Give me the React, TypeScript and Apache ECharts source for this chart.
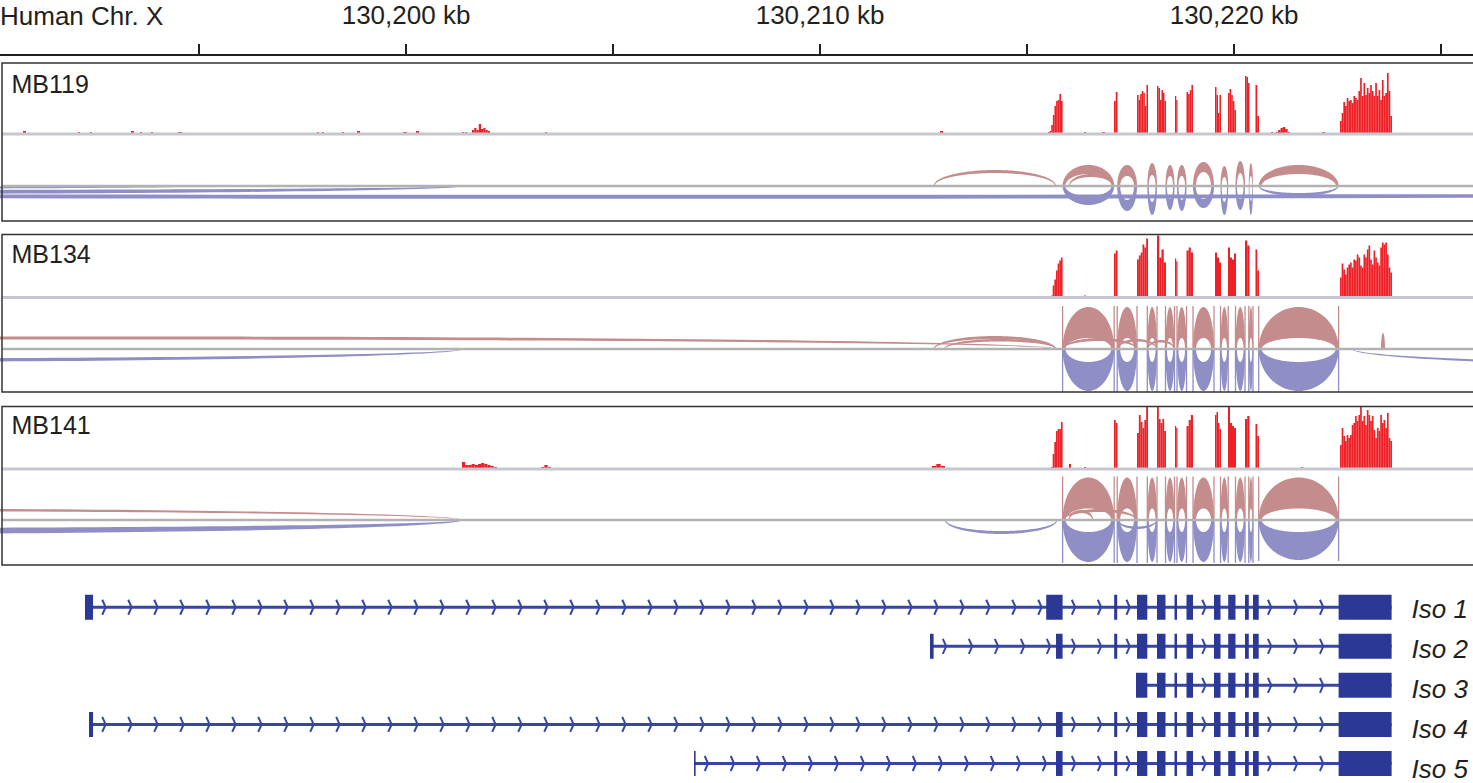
import React, { useEffect, useRef } from "react";
import * as echarts from "echarts";

// Genomic window on human chromosome X; all positions are kb offsets from 130,200 kb
const ORIGIN_KB = 130200;
const VIEW_START = -9.807;
const VIEW_END = 25.773;
const RULER_TICKS = [-5, 0, 5, 10, 15, 20, 25];
const RULER_LABELS = [0, 10, 20];
const CHROM_LABEL = "Human Chr. X";

const SAMPLES = ["MB119", "MB134", "MB141"];
const ISOFORMS = ["Iso 1", "Iso 2", "Iso 3", "Iso 4", "Iso 5"];

// Read coverage: [start kb, end kb, depths of the consecutive bins in that stretch]
const coverageMB119: [number, number, number[]][] = [
  [-9.251, -9.179, [3]],
  [-7.923, -7.874, [2]],
  [-7.633, -7.585, [2]],
  [-6.643, -6.570, [3]],
  [-6.425, -6.377, [2]],
  [-6.159, -6.111, [2]],
  [-5.507, -5.411, [2, 2]],
  [-2.150, -2.101, [2]],
  [-2.029, -1.981, [2]],
  [-1.546, -1.498, [2]],
  [-1.184, -1.111, [3]],
  [-0.072, 0.024, [2, 2]],
  [0.242, 0.314, [3]],
  [1.353, 1.401, [2]],
  [1.425, 1.473, [2]],
  [1.594, 2.029, [4, 6, 4, 10, 5, 6, 4, 3]],
  [3.357, 3.406, [2]],
  [12.899, 12.971, [3]],
  [15.507, 15.860, [2, 3, 9, 19, 28, 33, 34, 40, 33]],
  [16.377, 16.425, [2]],
  [16.812, 16.884, [2, 2]],
  [17.101, 17.186, [33, 42]],
  [17.657, 17.923, [39, 34, 40, 43, 41, 28, 49]],
  [18.140, 18.357, [48, 46, 34, 44, 41, 33]],
  [18.575, 18.635, [38, 34]],
  [18.853, 19.010, [42, 40, 44, 49]],
  [19.541, 19.686, [47, 39, 21, 39]],
  [19.855, 20.048, [41, 45, 39, 33, 24]],
  [20.266, 20.374, [58, 57, 51]],
  [20.519, 20.604, [49, 18]],
  [20.894, 21.353, [2, 0, 2, 4, 6, 7, 5, 2]],
  [22.126, 22.198, [2]],
  [22.560, 23.816, [13, 21, 32, 28, 36, 33, 34, 31, 38, 36, 34, 43, 56, 38, 51, 39, 46, 41, 49, 43, 38, 51, 38, 44, 34, 54, 38, 41, 61, 43, 18]],
];

const coverageMB134: [number, number, number[]][] = [
  [15.580, 15.860, [2, 12, 18, 27, 34, 37, 40]],
  [16.377, 16.425, [2]],
  [17.101, 17.186, [44, 47]],
  [17.657, 17.923, [38, 42, 45, 53, 50, 59]],
  [18.140, 18.357, [62, 40, 48, 35]],
  [18.575, 18.635, [39, 36]],
  [18.853, 19.010, [47, 50, 45]],
  [19.541, 19.686, [45, 40, 35]],
  [19.855, 20.048, [50, 40, 38, 44]],
  [20.266, 20.374, [57, 52]],
  [20.519, 20.604, [48, 27]],
  [22.560, 23.816, [20, 34, 28, 23, 30, 33, 35, 30, 38, 37, 43, 40, 32, 30, 43, 40, 48, 52, 38, 33, 47, 40, 35, 32, 50, 55, 53, 55, 43, 30, 25]],
];

const coverageMB141: [number, number, number[]][] = [
  [1.353, 2.198, [7, 4, 4, 5, 4, 5, 6, 5, 4, 3, 2]],
  [3.261, 3.502, [2, 4, 2]],
  [12.705, 13.019, [3, 5, 3]],
  [15.580, 15.860, [2, 15, 27, 38, 40, 40, 47]],
  [16.014, 16.063, [5]],
  [16.377, 16.425, [2]],
  [17.101, 17.186, [49, 46]],
  [17.657, 17.923, [36, 54, 47, 41, 49, 63]],
  [18.140, 18.357, [63, 50, 46, 50, 38]],
  [18.575, 18.635, [43, 41]],
  [18.853, 19.010, [43, 49, 54]],
  [19.541, 19.686, [54, 57, 46, 40]],
  [19.855, 20.048, [62, 46, 43, 41]],
  [20.266, 20.374, [50, 53]],
  [20.519, 20.604, [45, 33]],
  [21.618, 21.667, [2]],
  [22.560, 23.816, [24, 41, 33, 28, 34, 31, 34, 44, 46, 53, 48, 54, 63, 48, 53, 44, 59, 54, 48, 53, 39, 31, 41, 38, 54, 46, 49, 41, 56, 31, 28]],
];

// Splice junctions: [donor kb, acceptor kb, strand (1 above / -1 below), arc height, arc weight]
const junctionsMB119: number[][] = [
  [15.860, 17.106, 1, 21, 9],
  [17.179, 17.657, 1, 21, 11],
  [17.906, 18.140, 1, 23, 12],
  [18.345, 18.563, 1, 21, 11],
  [18.623, 18.853, 1, 21, 11],
  [19.010, 19.517, 1, 24, 10],
  [19.674, 19.860, 1, 20, 11],
  [20.036, 20.266, 1, 25, 12],
  [20.357, 20.459, 1, 23, 13],
  [20.597, 22.527, 1, 21, 9],
  [15.860, 17.106, -1, 19, 9],
  [17.179, 17.657, -1, 25, 11],
  [17.906, 18.140, -1, 29, 13],
  [18.345, 18.563, -1, 24, 11],
  [18.623, 18.853, -1, 25, 11],
  [19.010, 19.517, -1, 22, 9],
  [19.674, 19.860, -1, 29, 13],
  [20.036, 20.266, -1, 24, 11],
  [20.357, 20.459, -1, 29, 14],
  [20.597, 22.527, -1, 10, 3],
  [-30, -4.614, -1, 3, 2.5],
  [-30, 1.377, -1, 8, 4],
  [-50, 60, -1, 12.8, 4],
  [12.744, 15.700, 1, 16, 3],
  [16.014, 17.080, 1, 12, 3],
];

const junctionsMB134: number[][] = [
  [15.860, 17.106, 1, 42, 31],
  [17.179, 17.657, 1, 42, 31],
  [17.906, 18.140, 1, 42, 31],
  [18.345, 18.563, 1, 42, 31],
  [18.623, 18.853, 1, 42, 31],
  [19.010, 19.517, 1, 42, 31],
  [19.674, 19.860, 1, 42, 31],
  [20.036, 20.266, 1, 42, 31],
  [20.357, 20.459, 1, 42, 31],
  [20.597, 22.527, 1, 42, 31],
  [15.860, 17.106, -1, 42, 29],
  [17.179, 17.657, -1, 42, 29],
  [17.906, 18.140, -1, 42, 29],
  [18.345, 18.563, -1, 42, 29],
  [18.623, 18.853, -1, 42, 29],
  [19.010, 19.517, -1, 42, 29],
  [19.674, 19.860, -1, 42, 29],
  [20.036, 20.266, -1, 42, 29],
  [20.357, 20.459, -1, 42, 29],
  [20.597, 22.527, -1, 42, 29],
  [-30, 15.720, 1, 12.5, 3],
  [12.744, 15.700, 1, 13, 3],
  [12.995, 15.700, 1, 10, 2.5],
  [-30, 1.377, -1, 13, 3.5],
  [22.850, 50, -1, 20, 3.5],
  [23.551, 23.647, 1, 16, 16],
  [15.860, 17.657, 1, 11, 3],
  [17.179, 18.140, 1, 10, 2.5],
  [17.906, 18.563, 1, 9, 2.5],
];

const junctionsMB141: number[][] = [
  [15.860, 17.106, 1, 42.5, 31],
  [17.179, 17.657, 1, 42.5, 31],
  [17.906, 18.140, 1, 42.5, 31],
  [18.345, 18.563, 1, 42.5, 31],
  [18.623, 18.853, 1, 42.5, 31],
  [19.010, 19.517, 1, 42.5, 31],
  [19.674, 19.860, 1, 42.5, 31],
  [20.036, 20.266, 1, 42.5, 31],
  [20.357, 20.459, 1, 42.5, 31],
  [20.597, 22.527, 1, 42.5, 31],
  [15.860, 17.106, -1, 42, 30],
  [17.179, 17.657, -1, 42, 30],
  [17.906, 18.140, -1, 42, 30],
  [18.345, 18.563, -1, 42, 30],
  [18.623, 18.853, -1, 42, 30],
  [19.010, 19.517, -1, 42, 30],
  [19.674, 19.860, -1, 42, 30],
  [20.036, 20.266, -1, 42, 30],
  [20.357, 20.459, -1, 42, 30],
  [20.597, 22.527, -1, 40, 28],
  [-30, 1.353, 1, 11.5, 2.5],
  [-30, 1.353, -1, 14, 6],
  [13.019, 15.730, -1, 14, 3],
  [16.000, 16.600, 1, 10, 3],
  [15.860, 17.657, 1, 11, 3],
  [17.179, 18.140, -1, 9, 2.5],
];

// Isoform exon structures: [start kb, end kb]
const exonsIso1 = [[-7.754, -7.560], [15.464, 15.860], [17.106, 17.179], [17.657, 17.906], [18.140, 18.345], [18.563, 18.623], [18.853, 19.010], [19.517, 19.674], [19.860, 20.036], [20.266, 20.357], [20.459, 20.597], [22.527, 23.807]];
const exonsIso2 = [[12.657, 12.744], [15.700, 15.860], [17.106, 17.179], [17.657, 17.906], [18.140, 18.345], [18.563, 18.623], [18.853, 19.010], [19.517, 19.674], [19.860, 20.036], [20.266, 20.357], [20.459, 20.597], [22.527, 23.807]];
const exonsIso3 = [[17.633, 17.906], [18.140, 18.345], [18.563, 18.623], [18.853, 19.010], [19.517, 19.674], [19.860, 20.036], [20.266, 20.357], [20.459, 20.597], [22.527, 23.807]];
const exonsIso4 = [[-7.657, -7.560], [15.700, 15.860], [17.106, 17.179], [17.657, 17.906], [18.140, 18.345], [18.563, 18.623], [18.853, 19.010], [19.517, 19.674], [19.860, 20.036], [20.266, 20.357], [20.459, 20.597], [22.527, 23.807]];
const exonsIso5 = [[6.957, 6.993], [15.700, 15.860], [17.106, 17.179], [17.657, 17.906], [18.140, 18.345], [18.563, 18.623], [18.853, 19.010], [19.517, 19.674], [19.860, 20.036], [20.266, 20.357], [20.459, 20.597], [22.527, 23.807]];

const ISOFORM_EXONS = [exonsIso1, exonsIso2, exonsIso3, exonsIso4, exonsIso5];
const SAMPLE_COVERAGE = [coverageMB119, coverageMB134, coverageMB141];
const SAMPLE_JUNCTIONS = [junctionsMB119, junctionsMB134, junctionsMB141];

// ---- layout & style ----
const W = 1473;
const H = 783;
const FONT = '"Liberation Sans", Arial, Helvetica, sans-serif';
const TEXT = "#231f20";
const RED = "#ee1f25";
const PINK = "#c48c8c";
const BLUE = "#8f8fc6";
const GENE = "#2b3896";
const INTRON = "#3746a2";
const PANELS = [
  { top: 63, bottom: 221, cov: 134, axis: 186, label: 84 },
  { top: 234.5, bottom: 392, cov: 297.5, axis: 349, label: 254 },
  { top: 406.5, bottom: 565, cov: 469, axis: 520, label: 424.5 },
];
const GENE_TOP = 587.7;
const ROW_PX = 40;

function fmtKb(v: number) {
  return String(Math.round(ORIGIN_KB + v)).replace(/\B(?=(\d{3})+(?!\d))/g, ",") + " kb";
}

function buildBars(blocks: [number, number, number[]][]) {
  const out: number[][] = [];
  blocks.forEach(([s, e, vals]) => {
    const n = vals.length;
    vals.forEach((v, i) => {
      out.push([s + ((e - s) * i) / n, s + ((e - s) * (i + 1)) / n, v]);
    });
  });
  return out;
}

const coverageRender = (params: any, api: any) => {
  const x0 = api.value(0);
  const x1 = api.value(1);
  const v = api.value(2);
  if (v <= 0) return null;
  const p0 = api.coord([x0, v]);
  const p1 = api.coord([x1, 0]);
  return {
    type: "rect",
    shape: { x: p0[0], y: p0[1], width: Math.max(p1[0] - p0[0], 1), height: p1[1] - p0[1] },
    style: { fill: RED },
  };
};

const arcRender = (params: any, api: any) => {
  const x0 = api.value(0);
  const x1 = api.value(1);
  const side = api.value(2);
  const h = api.value(3);
  const w = api.value(4);
  const c = (x0 + x1) / 2;
  const a = (x1 - x0) / 2;
  const pa = api.coord([x0, 0]);
  const pb = api.coord([x1, 0]);
  const aPx = (pb[0] - pa[0]) / 2;
  const inner = Math.max(h - w, 0);
  // side thickness of the band, in pixels converted to axis units
  const shrinkPx = Math.min(0.3 * w, 0.3 * aPx, 3);
  const aIn = aPx > 0 ? a * (1 - shrinkPx / aPx) : a;
  const n = 90;
  const pts: number[][] = [];
  for (let k = 0; k <= n; k++) {
    const t = (Math.PI * k) / n;
    pts.push(api.coord([c - a * Math.cos(t), side * h * Math.sin(t)]));
  }
  for (let k = n; k >= 0; k--) {
    const t = (Math.PI * k) / n;
    pts.push(api.coord([c - aIn * Math.cos(t), side * inner * Math.sin(t)]));
  }
  const color = side > 0 ? PINK : BLUE;
  const children: any[] = [{ type: "polygon", shape: { points: pts }, style: { fill: color } }];
  if (w >= 20) {
    [x0, x1].forEach((x) => {
      const b = api.coord([x, 0]);
      const t = api.coord([x, side * (h + 1)]);
      children.push({
        type: "line",
        shape: { x1: b[0], y1: b[1], x2: t[0], y2: t[1] },
        style: { stroke: color, lineWidth: 1.3 },
      });
    });
  }
  return { type: "group", children };
};

const intronRender = (params: any, api: any) => {
  const row = api.value(0);
  const exons = ISOFORM_EXONS[params.dataIndex];
  const a = api.coord([exons[0][0], row]);
  const b = api.coord([exons[exons.length - 1][1], row]);
  const y = a[1];
  const children: any[] = [
    { type: "line", shape: { x1: a[0], y1: y, x2: b[0], y2: y }, style: { stroke: INTRON, lineWidth: 3 } },
  ];
  for (let i = 0; i < exons.length - 1; i++) {
    const g0 = api.coord([exons[i][1], row])[0];
    const g1 = api.coord([exons[i + 1][0], row])[0];
    for (let x = g0 + 11; x < g1 - 5; x += 26) {
      children.push({
        type: "polyline",
        shape: { points: [[x - 1.8, y - 7.5], [x + 1.6, y], [x - 1.8, y + 7.5]] },
        style: { stroke: INTRON, lineWidth: 2, fill: "none" },
      });
    }
  }
  return { type: "group", children };
};

const exonRender = (params: any, api: any) => {
  const row = api.value(0);
  const p0 = api.coord([api.value(1), row]);
  const p1 = api.coord([api.value(2), row]);
  const hh = 25;
  return {
    type: "rect",
    shape: { x: p0[0], y: p0[1] - hh / 2, width: Math.max(p1[0] - p0[0], 1.6), height: hh },
    style: { fill: GENE },
  };
};

export default function App() {
  const ref = useRef<HTMLDivElement>(null);
  useEffect(() => {
    if (!ref.current) return;
    const chart = echarts.init(ref.current, undefined, { renderer: "svg", width: W, height: H });

    const grids: any[] = [{ left: 0, right: 0, top: 45, height: 10 }];
    PANELS.forEach((p) => grids.push({ left: 0, right: 0, top: p.top, height: p.cov - p.top }));
    PANELS.forEach((p) => grids.push({ left: 0, right: 0, top: p.axis - 50, height: 100 }));
    grids.push({ left: 0, right: 0, top: GENE_TOP, height: ROW_PX * ISOFORMS.length });

    const xAxes: any[] = grids.map((_, i) => ({
      type: "value",
      gridIndex: i,
      min: VIEW_START,
      max: VIEW_END,
      show: i === 0,
      position: "top",
      splitLine: { show: false },
    }));
    Object.assign(xAxes[0], {
      axisLine: { show: true, lineStyle: { color: TEXT, width: 2 } },
      axisTick: { show: true, customValues: RULER_TICKS, length: 11, lineStyle: { color: TEXT, width: 2 } },
      axisLabel: {
        show: true,
        customValues: RULER_LABELS,
        formatter: (v: number) => fmtKb(v),
        fontSize: 26,
        fontFamily: FONT,
        color: TEXT,
        margin: 17,
      },
    });

    const yAxes: any[] = [{ gridIndex: 0, type: "value", show: false }];
    PANELS.forEach((p, i) => yAxes.push({ gridIndex: 1 + i, type: "value", min: 0, max: p.cov - p.top, show: false }));
    PANELS.forEach((p, i) => yAxes.push({ gridIndex: 4 + i, type: "value", min: -50, max: 50, show: false }));
    yAxes.push({ gridIndex: 7, type: "value", min: -0.5, max: ISOFORMS.length - 0.5, inverse: true, show: false });

    const series: any[] = [];
    SAMPLE_COVERAGE.forEach((cov, i) => {
      series.push({
        type: "custom",
        name: SAMPLES[i] + " coverage",
        xAxisIndex: 1 + i,
        yAxisIndex: 1 + i,
        clip: true,
        silent: true,
        renderItem: coverageRender,
        encode: { x: [0, 1], y: 2 },
        data: buildBars(cov),
      });
    });
    SAMPLE_JUNCTIONS.forEach((jn, i) => {
      series.push({
        type: "custom",
        name: SAMPLES[i] + " junctions",
        xAxisIndex: 4 + i,
        yAxisIndex: 4 + i,
        clip: true,
        silent: true,
        renderItem: arcRender,
        encode: { x: [0, 1], y: 3 },
        data: jn,
      });
    });
    series.push({
      type: "custom",
      name: "introns",
      xAxisIndex: 7,
      yAxisIndex: 7,
      clip: true,
      silent: true,
      renderItem: intronRender,
      encode: { x: [1, 2], y: 0 },
      data: ISOFORM_EXONS.map((ex, r) => [r, ex[0][0], ex[ex.length - 1][1]]),
    });
    const exonData: number[][] = [];
    ISOFORM_EXONS.forEach((ex, r) => ex.forEach(([s, e]) => exonData.push([r, s, e])));
    series.push({
      type: "custom",
      name: "exons",
      xAxisIndex: 7,
      yAxisIndex: 7,
      clip: true,
      silent: true,
      renderItem: exonRender,
      encode: { x: [1, 2], y: 0 },
      data: exonData,
    });

    const graphics: any[] = [
      {
        type: "text",
        x: 0,
        y: 15.5,
        style: { text: CHROM_LABEL, fontSize: 26, fontFamily: FONT, fill: TEXT, verticalAlign: "middle", align: "left" },
      },
    ];
    PANELS.forEach((p, i) => {
      graphics.push({
        type: "line",
        z: 100,
        shape: { x1: 2, y1: p.cov, x2: W, y2: p.cov },
        style: { stroke: "#c6c6d0", lineWidth: 3 },
      });
      graphics.push({
        type: "line",
        z: 100,
        shape: { x1: 2, y1: p.axis, x2: W, y2: p.axis },
        style: { stroke: "#b2b2b2", lineWidth: 2.5 },
      });
      graphics.push({
        type: "rect",
        z: 101,
        shape: { x: 2, y: p.top, width: W + 10, height: p.bottom - p.top },
        style: { fill: "none", stroke: "#333333", lineWidth: 1.5 },
      });
      graphics.push({
        type: "text",
        z: 102,
        x: 11.5,
        y: p.label,
        style: { text: SAMPLES[i], fontSize: 25, fontFamily: FONT, fill: TEXT, verticalAlign: "middle", align: "left" },
      });
    });
    ISOFORMS.forEach((name, r) => {
      graphics.push({
        type: "text",
        x: 1411.5,
        y: GENE_TOP + ROW_PX / 2 + r * ROW_PX + 1,
        style: {
          text: name,
          fontSize: 26,
          fontStyle: "italic",
          fontFamily: FONT,
          fill: TEXT,
          verticalAlign: "middle",
          align: "left",
        },
      });
    });

    chart.setOption({
      animation: false,
      backgroundColor: "#ffffff",
      grid: grids,
      xAxis: xAxes,
      yAxis: yAxes,
      series,
      graphic: graphics,
    });
    return () => chart.dispose();
  }, []);
  return <div ref={ref} style={{ position: "fixed", left: 0, top: 0, width: W, height: H, background: "#fff" }} />;
}
